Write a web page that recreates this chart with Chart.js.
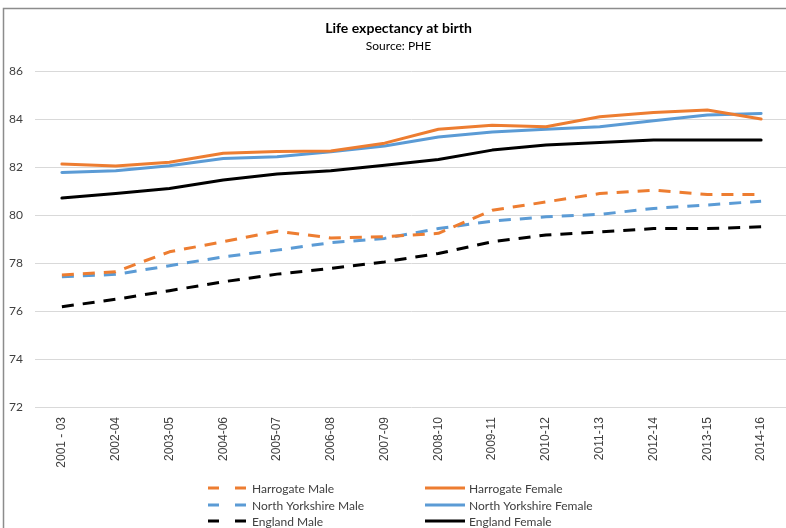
<!DOCTYPE html>
<html>
<head>
<meta charset="utf-8">
<script src="https://cdn.jsdelivr.net/npm/chart.js@4.4.0/dist/chart.umd.min.js"></script>
<style>
  html, body { margin: 0; padding: 0; background: #fff; overflow: hidden; }
  #wrap { position: relative; width: 800px; height: 528px; }
</style>
</head>
<body>
<div id="wrap"><canvas id="chart-life"></canvas></div>
<script>
// Periods (x axis)
const categories = ['2001 - 03', '2002-04', '2003-05', '2004-06', '2005-07', '2006-08', '2007-09',
    '2008-10', '2009-11', '2010-12', '2011-13', '2012-14', '2013-15', '2014-16'];

// Life expectancy values (years)
const harrogateMale = [77.5, 77.64, 78.47, 78.89, 79.33, 79.05, 79.1, 79.24, 80.2, 80.55, 80.9, 81.04, 80.86, 80.86];
const harrogateFemale = [82.13, 82.05, 82.2, 82.58, 82.65, 82.67, 83.0, 83.58, 83.75, 83.68, 84.1, 84.28, 84.38, 84.01];
const northYorksMale = [77.43, 77.53, 77.89, 78.26, 78.54, 78.85, 79.03, 79.44, 79.75, 79.93, 80.03, 80.28, 80.42, 80.58];
const northYorksFemale = [81.78, 81.85, 82.06, 82.36, 82.43, 82.64, 82.88, 83.26, 83.47, 83.58, 83.68, 83.93, 84.17, 84.24];
const englandMale = [76.18, 76.49, 76.85, 77.22, 77.54, 77.78, 78.05, 78.4, 78.89, 79.17, 79.3, 79.44, 79.44, 79.51];
const englandFemale = [80.71, 80.9, 81.11, 81.46, 81.71, 81.85, 82.08, 82.32, 82.71, 82.92, 83.03, 83.13, 83.13, 83.13];

const ORANGE = '#ED7D31';
const BLUE = '#5B9BD5';
const BLACK = '#000000';
const DASH = [12, 9];

function series(label, data, color, dashed) {
    return {
        label: label,
        data: data,
        borderColor: color,
        backgroundColor: color,
        borderWidth: 3,
        borderDash: dashed ? DASH : [],
        borderJoinStyle: 'round',
        borderCapStyle: dashed ? 'butt' : 'round',
        pointRadius: 0,
        tension: 0,
        fill: false
    };
}

// Grey frame of the chart object (only top and left show in the crop)
const framePlugin = {
    id: 'frame',
    beforeDraw(chart) {
        const ctx = chart.ctx;
        ctx.save();
        ctx.fillStyle = '#fff';
        ctx.fillRect(0, 0, chart.width, chart.height);
        ctx.strokeStyle = '#8c8c8c';
        ctx.lineWidth = 1.5;
        ctx.beginPath();
        ctx.moveTo(3.5, chart.height);
        ctx.lineTo(3.5, 8.5);
        ctx.lineTo(chart.width, 8.5);
        ctx.stroke();
        ctx.restore();
    }
};

// Two-column legend like the Excel one
const legendPlugin = {
    id: 'gridLegend',
    afterDraw(chart) {
        const ctx = chart.ctx;
        const colX = [208, 425];
        const rowY = [488, 505, 521];
        ctx.save();
        ctx.font = '12px Lato, "Open Sans", sans-serif';
        ctx.textBaseline = 'middle';
        chart.data.datasets.forEach((ds, i) => {
            const x = colX[i % 2];
            const y = rowY[Math.floor(i / 2)];
            ctx.strokeStyle = ds.borderColor;
            ctx.lineWidth = 3;
            ctx.lineCap = 'butt';
            ctx.setLineDash(ds.borderDash.length ? [11, 16] : []);
            ctx.beginPath();
            ctx.moveTo(x, y);
            ctx.lineTo(x + 40, y);
            ctx.stroke();
            ctx.setLineDash([]);
            ctx.fillStyle = '#404040';
            ctx.fillText(ds.label, x + 44, y + 1);
        });
        ctx.restore();
    }
};

function initializeChart() {
    const element = document.getElementById('chart-life');
    return new Chart(element, {
        type: 'line',
        data: {
            labels: categories,
            datasets: [
                series('Harrogate Male', harrogateMale, ORANGE, true),
                series('Harrogate Female', harrogateFemale, ORANGE, false),
                series('North Yorkshire Male', northYorksMale, BLUE, true),
                series('North Yorkshire Female', northYorksFemale, BLUE, false),
                series('England Male', englandMale, BLACK, true),
                series('England Female', englandFemale, BLACK, false)
            ]
        },
        options: {
            responsive: false,
            animation: false,
            devicePixelRatio: 1,
            layout: { padding: { left: 9, right: 12, top: 0, bottom: 0 } },
            plugins: {
                legend: { display: false },
                tooltip: { enabled: false },
                title: {
                    display: true,
                    text: 'Life expectancy at birth',
                    color: '#000',
                    font: { family: 'Lato, "Open Sans", sans-serif', size: 14, weight: 'bold' },
                    padding: { top: 20, bottom: 2 }
                },
                subtitle: {
                    display: true,
                    text: 'Source: PHE',
                    color: '#000',
                    font: { family: 'Lato, "Open Sans", sans-serif', size: 12 },
                    padding: { top: 0, bottom: 18 }
                }
            },
            scales: {
                x: {
                    offset: true,
                    grid: { display: false, drawTicks: false },
                    border: { display: false },
                    ticks: {
                        minRotation: 90,
                        maxRotation: 90,
                        padding: 10,
                        color: '#404040',
                        font: { family: '"Liberation Sans", Arial, sans-serif', size: 12 }
                    },
                    afterFit(scale) { scale.height = 121; }
                },
                y: {
                    min: 72,
                    max: 86,
                    grid: { color: '#D9D9D9', lineWidth: 1, drawTicks: false },
                    border: { display: false },
                    ticks: {
                        stepSize: 2,
                        crossAlign: 'far',
                        padding: 12,
                        color: '#404040',
                        font: { family: 'Lato, "Open Sans", sans-serif', size: 12 }
                    },
                    afterFit(scale) { scale.width = 26; }
                }
            }
        },
        plugins: [framePlugin, legendPlugin]
    });
}

const canvas = document.getElementById('chart-life');
canvas.width = 800;
canvas.height = 528;
initializeChart();
</script>
</body>
</html>
